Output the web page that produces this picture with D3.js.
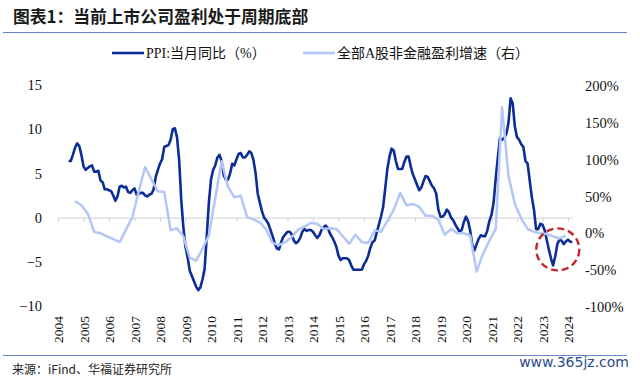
<!DOCTYPE html>
<html>
<head>
<meta charset="utf-8">
<script src="https://cdn.jsdelivr.net/npm/d3@7"></script>
<style>
  body { margin: 0; background: #fff; }
  svg { display: block; }
</style>
</head>
<body>
<div id="wrapper"></div>
<script>
// PPI year-on-year, monthly, Jun 2004 .. Mar 2024 (left axis)
const ppiStart = [2004, 6]
const ppiValues = [
  6.4, 6.4, 7.1, 7.9, 8.4, 8.1, 7.1,
  5.8, 5.4, 5.6, 5.8, 5.9, 5.2, 5.2, 5.3, 4.2, 4.0, 3.2, 3.2,
  3.1, 3.0, 2.5, 1.9, 2.4, 3.5, 3.6, 3.4, 3.5, 2.9, 2.8, 3.1,
  3.3, 2.6, 2.7, 2.8, 2.8, 2.5, 2.4, 2.6, 2.7, 3.2, 4.6, 5.4,
  6.1, 6.6, 8.0, 8.1, 8.2, 8.8, 10.0, 10.1, 9.1, 6.6, 2.0, -1.1,
  -3.3, -4.5, -6.0, -6.6, -7.2, -7.8, -8.2, -7.9, -7.0, -5.8, -2.1, 1.7,
  4.3, 5.4, 5.9, 6.8, 7.1, 6.4, 4.8, 4.3, 4.3, 5.0, 6.1, 5.9,
  6.6, 7.2, 7.3, 6.8, 6.8, 7.1, 7.5, 7.3, 6.5, 5.0, 2.7, 1.7,
  0.7, 0.0, -0.3, -0.7, -1.4, -2.1, -2.9, -3.5, -3.6, -2.8, -2.2, -1.9,
  -1.6, -1.6, -1.9, -2.6, -2.9, -2.7, -2.3, -1.6, -1.3, -1.5, -1.4, -1.4,
  -1.6, -2.0, -2.3, -2.0, -1.4, -1.1, -0.9, -1.2, -1.8, -2.2, -2.7, -3.3,
  -4.3, -4.8, -4.6, -4.6, -4.6, -4.8, -5.4, -5.9, -5.9, -5.9, -5.9, -5.9,
  -5.3, -4.9, -4.3, -3.4, -2.8, -2.6, -1.7, -0.8, 0.1, 1.2, 3.3, 5.5,
  6.9, 7.8, 7.6, 6.4, 5.5, 5.5, 5.5, 6.3, 6.9, 6.9, 5.8, 4.9,
  4.3, 3.7, 3.1, 3.4, 4.1, 4.7, 4.6, 4.1, 3.6, 3.3, 2.7, 0.9,
  0.1, 0.1, 0.4, 0.9, 0.6, 0.0, -0.3, -0.8, -1.2, -1.6, -1.4, -0.5,
  0.1, -0.4, -1.5, -3.1, -3.7, -3.0, -2.4, -2.0, -2.1, -2.1, -1.5, -0.4,
  0.3, 1.7, 4.4, 6.8, 9.0, 8.8, 9.0, 9.5, 10.7, 13.5, 12.9, 10.3,
  9.1, 8.8, 8.3, 8.0, 6.4, 6.1, 4.2, 2.3, 0.9, -1.3, -1.3, -0.7,
  -0.8, -1.4, -2.5, -3.6, -4.6, -5.4, -4.4, -3.0, -2.5, -2.6, -3.0, -2.7,
  -2.5, -2.7, -2.8
]

// A-share non-financial profit growth (%), quarterly, Sep 2004 .. Dec 2023 (right axis)
const profitStart = [2004, 9]
const profitValues = [
  44, 38,
  27, 2, 0, -4,
  -8, -12, 5, 22,
  57, 90, 73, 57,
  56, 4, 7, -4,
  -33, -37, -21, -3,
  48, 98, 63, 49,
  51, 22, 19, 15,
  5, -13, -16, -12,
  -5, 5, 9, 14,
  13, 6, 7, 6,
  -4, -14, -2, -12,
  -13, 4, 2, 17,
  32, 55, 38, 40,
  36, 24, 24, 18,
  -2, 6, 0, 0,
  -3, -52, -28, -10,
  6, 171, 78, 40,
  20, 6, 2, 0,
  -1, -4, -7, -3
]

const yearTicks = [2004, 2005, 2006, 2007, 2008, 2009, 2010, 2011, 2012, 2013, 2014,
  2015, 2016, 2017, 2018, 2019, 2020, 2021, 2022, 2023, 2024]
const leftTicks = [-10, -5, 0, 5, 10, 15]
const rightTicks = [-100, -50, 0, 50, 100, 150, 200]

const seriesNames = ["PPI:当月同比（%）", "全部A股非金融盈利增速（右）"]
const titleText = "图表1：当前上市公司盈利处于周期底部"
const sourceText = "来源：iFind、华福证券研究所"
const watermarkText = "www.365jz.com"

// circled area (latest trough), in data units
const highlight = { date: 2023.6, value: -3.6 }

function drawChart() {
  const dark = "#0c2c96"
  const light = "#b3c6f6"
  const serif = "'Liberation Serif', 'Noto Sans CJK SC', serif"
  const cjk = "'Noto Sans CJK SC', sans-serif"

  // 1. data
  const monthDate = (start, stepMonths) => (d, i) =>
    start[0] + (start[1] - 1 + i * stepMonths) / 12
  const ppiDate = monthDate(ppiStart, 1)
  const profitDate = monthDate(profitStart, 3)
  const ppi = ppiValues.map((v, i) => ({ date: ppiDate(v, i), value: v }))
  const profit = profitValues.map((v, i) => ({ date: profitDate(v, i), value: v }))

  // 2. dimensions
  const dimensions = {
    width: 640,
    height: 376,
    plotLeft: 58,
    plotRight: 572.3,
    plotTop: 85,
    plotBottom: 306,
  }

  // 3. canvas
  const svg = d3.select("#wrapper")
    .append("svg")
    .attr("width", dimensions.width)
    .attr("height", dimensions.height)

  // scales
  const xScale = d3.scaleLinear()
    .domain([2004, 2024.17])
    .range([dimensions.plotLeft, dimensions.plotRight])

  const yLeft = d3.scaleLinear()
    .domain([-10, 15])
    .range([dimensions.plotBottom, dimensions.plotTop])

  const yRight = d3.scaleLinear()
    .domain([-100, 200])
    .range([307, 86])

  // header
  svg.append("text")
    .attr("x", 13)
    .attr("y", 16)
    .attr("dominant-baseline", "central")
    .style("font-family", cjk)
    .style("font-size", "16.8px")
    .style("font-weight", "bold")
    .attr("fill", "#1a1a1a")
    .text(titleText)

  svg.append("line")
    .attr("x1", 3).attr("x2", 627)
    .attr("y1", 32.5).attr("y2", 32.5)
    .attr("stroke", "#6583c8")
    .attr("stroke-width", 1)

  // zero axis with year ticks
  const zeroAxis = svg.append("g")
    .attr("transform", `translate(0,${yLeft(0)})`)
    .call(d3.axisBottom(xScale).tickValues(yearTicks).tickSize(4).tickSizeOuter(0).tickFormat(""))
  zeroAxis.selectAll("path, line").attr("stroke", "#d0d0d0")

  // year labels (rotated)
  const yearAxis = svg.append("g")
    .attr("transform", "translate(0,343)")
    .call(d3.axisBottom(xScale).tickValues(yearTicks).tickSize(0).tickFormat(d3.format("d")))
  yearAxis.select(".domain").remove()
  yearAxis.selectAll("text")
    .attr("transform", "rotate(-90)")
    .attr("x", 0)
    .attr("y", 0)
    .attr("dy", "0.35em")
    .attr("text-anchor", "start")
    .attr("fill", "#111")
    .style("font-family", serif)
    .style("font-size", "13.5px")

  // left axis
  const leftAxis = svg.append("g")
    .attr("transform", "translate(42,0)")
    .call(d3.axisLeft(yLeft).tickValues(leftTicks).tickSize(0).tickPadding(0))
  leftAxis.select(".domain").remove()
  leftAxis.selectAll("text")
    .attr("fill", "#111")
    .style("font-family", serif)
    .style("font-size", "14.5px")

  // right axis
  const rightAxis = svg.append("g")
    .attr("transform", "translate(585,0)")
    .call(d3.axisRight(yRight).tickValues(rightTicks).tickSize(0).tickPadding(0)
      .tickFormat(d => d + "%"))
  rightAxis.select(".domain").remove()
  rightAxis.selectAll("text")
    .attr("fill", "#111")
    .style("font-family", serif)
    .style("font-size", "14.5px")

  // lines
  const ppiLine = d3.line()
    .x(d => xScale(d.date))
    .y(d => yLeft(d.value))

  const profitLine = d3.line()
    .x(d => xScale(d.date))
    .y(d => yRight(d.value))

  svg.append("path")
    .attr("d", ppiLine(ppi))
    .attr("fill", "none")
    .attr("stroke", dark)
    .attr("stroke-width", 2.6)
    .attr("stroke-linejoin", "round")

  svg.append("path")
    .attr("d", profitLine(profit))
    .attr("fill", "none")
    .attr("stroke", light)
    .attr("stroke-width", 2.5)
    .attr("stroke-linejoin", "round")

  // red dashed circle
  svg.append("ellipse")
    .attr("cx", xScale(highlight.date))
    .attr("cy", yLeft(highlight.value))
    .attr("rx", 21.5)
    .attr("ry", 21)
    .attr("fill", "none")
    .attr("stroke", "#c1272d")
    .attr("stroke-width", 2.4)
    .attr("stroke-dasharray", "7,4")

  // legend
  const legendItems = [
    { name: seriesNames[0], color: dark, x: 112, width: 2.6 },
    { name: seriesNames[1], color: light, x: 303, width: 2.6 },
  ]
  const legend = svg.append("g").attr("transform", "translate(0,53)")
  legend.selectAll("line")
    .data(legendItems)
    .join("line")
    .attr("x1", d => d.x)
    .attr("x2", d => d.x + 32)
    .attr("stroke", d => d.color)
    .attr("stroke-width", d => d.width)
  legend.selectAll("text")
    .data(legendItems)
    .join("text")
    .attr("x", d => d.x + 34)
    .attr("dominant-baseline", "central")
    .style("font-family", serif)
    .style("font-size", "14px")
    .attr("fill", "#111")
    .text(d => d.name)

  // footer
  svg.append("line")
    .attr("x1", 3).attr("x2", 627)
    .attr("y1", 355.5).attr("y2", 355.5)
    .attr("stroke", "#6583c8")
    .attr("stroke-width", 1)

  svg.append("text")
    .attr("x", 12)
    .attr("y", 368)
    .attr("dominant-baseline", "central")
    .style("font-family", cjk)
    .style("font-size", "12px")
    .attr("fill", "#222")
    .text(sourceText)

  svg.append("text")
    .attr("x", 629)
    .attr("y", 362)
    .attr("text-anchor", "end")
    .attr("dominant-baseline", "central")
    .style("font-family", "'DejaVu Sans', sans-serif")
    .style("font-size", "14px")
    .attr("fill", "#2b4c8c")
    .text(watermarkText)
}

drawChart()
</script>
</body>
</html>
